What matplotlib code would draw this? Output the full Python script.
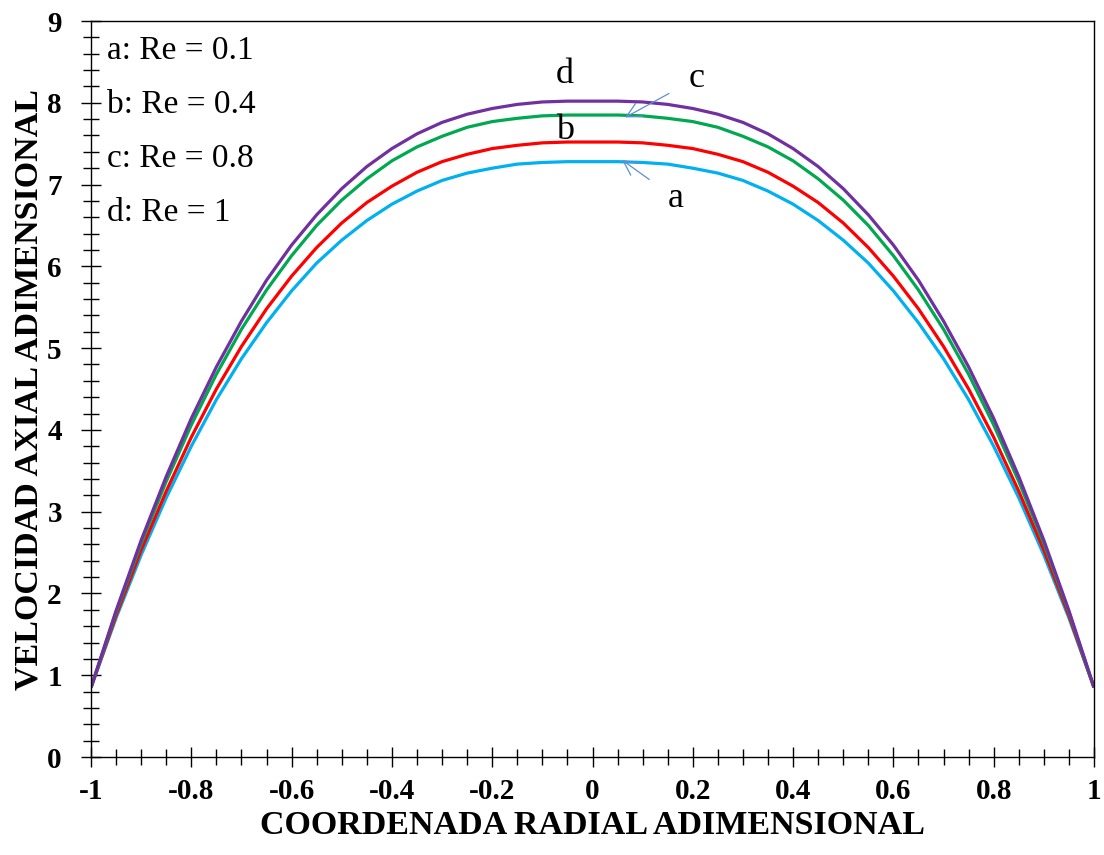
import numpy as np
import matplotlib
matplotlib.use("Agg")
import matplotlib.pyplot as plt
from matplotlib.ticker import MultipleLocator, FuncFormatter

# Radial coordinate (dimensionless)
x = [-1.00, -0.95, -0.90, -0.85, -0.80, -0.75, -0.70, -0.65, -0.60, -0.55,
     -0.50, -0.45, -0.40, -0.35, -0.30, -0.25, -0.20, -0.15, -0.10, -0.05,
     0.00, 0.05, 0.10, 0.15, 0.20, 0.25, 0.30, 0.35, 0.40, 0.45,
     0.50, 0.55, 0.60, 0.65, 0.70, 0.75, 0.80, 0.85, 0.90, 0.95, 1.00]

half_a = [0.85, 1.70, 2.47, 3.17, 3.80, 4.37, 4.87, 5.31, 5.70, 6.04,
          6.32, 6.56, 6.76, 6.92, 7.05, 7.14, 7.20, 7.25, 7.27, 7.28]
half_b = [0.85, 1.73, 2.53, 3.25, 3.91, 4.50, 5.02, 5.48, 5.88, 6.23,
          6.53, 6.78, 6.98, 7.15, 7.28, 7.37, 7.44, 7.48, 7.51, 7.52]
half_c = [0.85, 1.77, 2.61, 3.37, 4.06, 4.68, 5.23, 5.71, 6.13, 6.50,
          6.81, 7.07, 7.29, 7.46, 7.59, 7.70, 7.77, 7.81, 7.84, 7.85]
half_d = [0.85, 1.79, 2.65, 3.43, 4.14, 4.77, 5.33, 5.83, 6.26, 6.63,
          6.95, 7.22, 7.44, 7.62, 7.76, 7.86, 7.93, 7.98, 8.01, 8.02]

u_a = half_a + [7.28] + half_a[::-1]
u_b = half_b + [7.52] + half_b[::-1]
u_c = half_c + [7.85] + half_c[::-1]
u_d = half_d + [8.02] + half_d[::-1]

labels = ["a: Re = 0.1", "b: Re = 0.4", "c: Re = 0.8", "d: Re = 1"]
colors = ["#00B0F0", "#FF0000", "#00A850", "#7030A0"]

plt.rcParams['font.family'] = ['Liberation Serif', 'DejaVu Serif']

fig = plt.figure(figsize=(11.04, 8.55), dpi=100)
ax = fig.add_axes([91/1104, 1-757/855, (1094-91)/1104, (757-21)/855])

for u, c in zip([u_a, u_b, u_c, u_d], colors):
    ax.plot(x, u, color=c, lw=2.3, solid_capstyle='butt', solid_joinstyle='round')

ax.set_xlim(-1, 1)
ax.set_ylim(0, 9)
ax.xaxis.set_major_locator(MultipleLocator(0.2))
ax.xaxis.set_minor_locator(MultipleLocator(0.05))
ax.yaxis.set_major_locator(MultipleLocator(1))
ax.yaxis.set_minor_locator(MultipleLocator(0.2))

def fmt(v, pos):
    if abs(v) < 1e-9:
        return "0"
    if abs(v - round(v)) < 1e-9:
        return "%d" % round(v)
    return "%.1f" % v
ax.xaxis.set_major_formatter(FuncFormatter(fmt))
ax.yaxis.set_major_formatter(FuncFormatter(fmt))

ax.tick_params(which='major', direction='inout', length=14, width=1.0, color='black',
               labelsize=21)
ax.tick_params(axis='x', which='major', pad=8)
ax.tick_params(axis='y', which='major', pad=14)
ax.tick_params(which='minor', direction='inout', length=11, width=1.0, color='black')
for lab in ax.get_xticklabels() + ax.get_yticklabels():
    lab.set_fontweight('bold')
for s in ax.spines.values():
    s.set_linewidth(1.0)
    s.set_color('black')

ax.set_xlabel("COORDENADA RADIAL ADIMENSIONAL", fontsize=24.5, fontweight='bold', labelpad=4)
ax.set_ylabel("VELOCIDAD AXIAL ADIMENSIONAL", fontsize=24.5, fontweight='bold', labelpad=2)

ys = [8.64, 7.98, 7.32, 6.66]
for lab, yy in zip(labels, ys):
    ax.text(-0.968, yy, lab, fontsize=24, va='center', ha='left')

arrow_c = '#5B8FD0'
ax.text(-0.055, 8.34, "d", fontsize=26, ha='center', va='center')
ax.text(-0.055, 7.66, "b", fontsize=26, ha='center', va='center')
ax.annotate("c", xy=(0.065, 7.82), xytext=(0.208, 8.30), fontsize=26, ha='center', va='center',
            arrowprops=dict(arrowstyle='->', color=arrow_c, lw=0.9, shrinkA=14, shrinkB=0))
ax.annotate("a", xy=(0.059, 7.30), xytext=(0.166, 6.83), fontsize=26, ha='center', va='center',
            arrowprops=dict(arrowstyle='->', color=arrow_c, lw=0.9, shrinkA=14, shrinkB=0))

fig.savefig("out.png", dpi=100)
